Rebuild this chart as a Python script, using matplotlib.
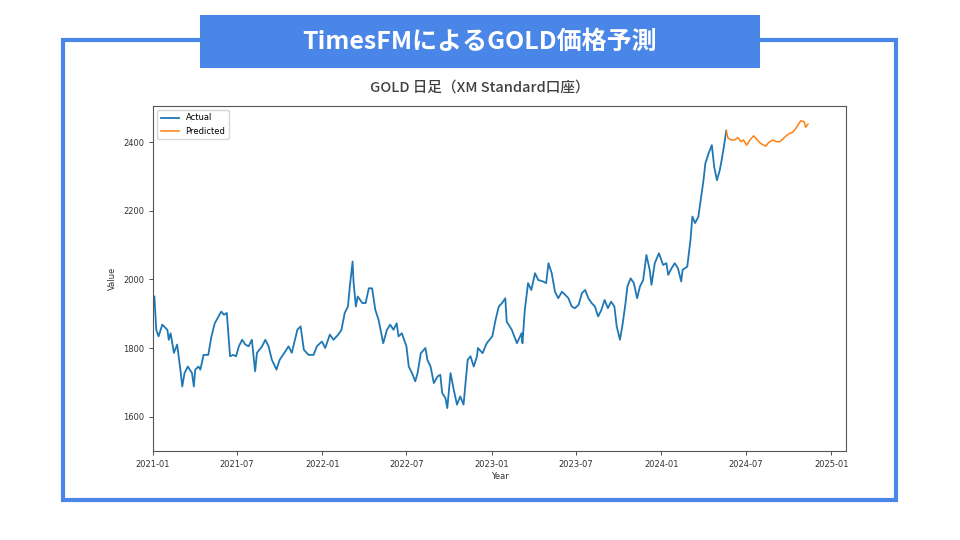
import matplotlib
matplotlib.use("Agg")
import matplotlib.pyplot as plt
import matplotlib.dates as mdates
import pandas as pd
from matplotlib.patches import Rectangle

plt.rcParams['font.family'] = ['Noto Sans CJK JP', 'DejaVu Sans']

# --- data ---
actual_dates = [
    "2021-01-04", "2021-01-08", "2021-01-13", "2021-01-21", "2021-02-01", "2021-02-04",
    "2021-02-08", "2021-02-15", "2021-02-22", "2021-03-01", "2021-03-05", "2021-03-10",
    "2021-03-17", "2021-03-26", "2021-03-30", "2021-04-02", "2021-04-09", "2021-04-13",
    "2021-04-20", "2021-04-30", "2021-05-07", "2021-05-14", "2021-05-28", "2021-06-03",
    "2021-06-09", "2021-06-16", "2021-06-23", "2021-06-29", "2021-07-05", "2021-07-12",
    "2021-07-19", "2021-07-26", "2021-08-02", "2021-08-09", "2021-08-13", "2021-08-24",
    "2021-08-31", "2021-09-07", "2021-09-14", "2021-09-24", "2021-10-01", "2021-10-13",
    "2021-10-20", "2021-10-27", "2021-11-08", "2021-11-15", "2021-11-22", "2021-12-02",
    "2021-12-13", "2021-12-20", "2021-12-31", "2022-01-07", "2022-01-17", "2022-01-25",
    "2022-02-04", "2022-02-11", "2022-02-18", "2022-02-25", "2022-03-01", "2022-03-07",
    "2022-03-09", "2022-03-14", "2022-03-18", "2022-03-28", "2022-04-04", "2022-04-11",
    "2022-04-18", "2022-04-25", "2022-05-02", "2022-05-12", "2022-05-20", "2022-05-27",
    "2022-06-03", "2022-06-10", "2022-06-14", "2022-06-21", "2022-07-01", "2022-07-06",
    "2022-07-13", "2022-07-20", "2022-07-25", "2022-08-01", "2022-08-11", "2022-08-15",
    "2022-08-22", "2022-08-29", "2022-09-06", "2022-09-12", "2022-09-16", "2022-09-23",
    "2022-09-27", "2022-10-04", "2022-10-11", "2022-10-18", "2022-10-25", "2022-11-01",
    "2022-11-04", "2022-11-10", "2022-11-16", "2022-11-23", "2022-11-30", "2022-12-02",
    "2022-12-12", "2022-12-21", "2023-01-02", "2023-01-09", "2023-01-16", "2023-01-23",
    "2023-01-30", "2023-02-02", "2023-02-13", "2023-02-24", "2023-03-06", "2023-03-08",
    "2023-03-13", "2023-03-20", "2023-03-27", "2023-04-04", "2023-04-11", "2023-04-21",
    "2023-04-28", "2023-05-03", "2023-05-10", "2023-05-17", "2023-05-24", "2023-06-01",
    "2023-06-08", "2023-06-15", "2023-06-22", "2023-06-29", "2023-07-07", "2023-07-14",
    "2023-07-21", "2023-07-28", "2023-08-04", "2023-08-11", "2023-08-18", "2023-08-25",
    "2023-09-01", "2023-09-08", "2023-09-15", "2023-09-22", "2023-09-27", "2023-10-04",
    "2023-10-10", "2023-10-16", "2023-10-20", "2023-10-27", "2023-11-03", "2023-11-10",
    "2023-11-16", "2023-11-23", "2023-11-30", "2023-12-07", "2023-12-11", "2023-12-18",
    "2023-12-27", "2024-01-05", "2024-01-12", "2024-01-16", "2024-01-23", "2024-01-30",
    "2024-02-06", "2024-02-13", "2024-02-16", "2024-02-26", "2024-03-04", "2024-03-08",
    "2024-03-14", "2024-03-21", "2024-03-27", "2024-04-01", "2024-04-05", "2024-04-12",
    "2024-04-19", "2024-04-24", "2024-04-30", "2024-05-06", "2024-05-10", "2024-05-15",
    "2024-05-20",
]
actual_values = [
    1950, 1853, 1834, 1868, 1853, 1824,
    1843, 1786, 1810, 1737, 1688, 1727,
    1746, 1727, 1688, 1737, 1746, 1737,
    1780, 1780, 1834, 1872, 1906, 1897,
    1902, 1776, 1780, 1776, 1805, 1824,
    1810, 1805, 1824, 1732, 1786, 1805,
    1824, 1805, 1766, 1737, 1766, 1790,
    1805, 1786, 1853, 1863, 1795, 1780,
    1780, 1805, 1819, 1800, 1839, 1824,
    1839, 1853, 1902, 1921, 1979, 2052,
    1994, 1921, 1950, 1931, 1931, 1974,
    1974, 1911, 1882, 1814, 1853, 1868,
    1853, 1872, 1834, 1843, 1805, 1746,
    1727, 1703, 1727, 1785, 1800, 1766,
    1746, 1698, 1717, 1722, 1669, 1654,
    1625, 1727, 1678, 1635, 1659, 1635,
    1678, 1766, 1776, 1746, 1776, 1800,
    1785, 1814, 1834, 1882, 1921, 1931,
    1945, 1877, 1853, 1814, 1843, 1814,
    1911, 1989, 1969, 2018, 1998, 1994,
    1989, 2047, 2018, 1964, 1945, 1964,
    1955, 1945, 1921, 1916, 1926, 1960,
    1969, 1945, 1931, 1921, 1892, 1911,
    1940, 1916, 1935, 1921, 1863, 1824,
    1872, 1931, 1979, 2003, 1989, 1945,
    1979, 1998, 2071, 2028, 1984, 2047,
    2076, 2042, 2047, 2013, 2032, 2047,
    2032, 1994, 2028, 2037, 2115, 2183,
    2164, 2183, 2241, 2289, 2338, 2367,
    2391, 2328, 2289, 2318, 2347, 2387,
    2433,
]

pred_dates = [
    "2024-05-20", "2024-05-24", "2024-05-31", "2024-06-07", "2024-06-14", "2024-06-21",
    "2024-06-26", "2024-07-03", "2024-07-10", "2024-07-18", "2024-07-26", "2024-08-02",
    "2024-08-13", "2024-08-19", "2024-08-28", "2024-09-05", "2024-09-12", "2024-09-19",
    "2024-09-26", "2024-10-03", "2024-10-10", "2024-10-17", "2024-10-24", "2024-10-28",
    "2024-11-04", "2024-11-07", "2024-11-12",
]
pred_values = [
    2433, 2411, 2406, 2406, 2413, 2401,
    2406, 2391, 2406, 2418, 2406, 2396,
    2388, 2398, 2406, 2401, 2401, 2409,
    2418, 2425, 2428, 2440, 2455, 2462,
    2459, 2443, 2452,
]

x_ticks = ["2021-01", "2021-07", "2022-01", "2022-07", "2023-01",
           "2023-07", "2024-01", "2024-07", "2025-01"]
y_ticks = [1600, 1800, 2000, 2200, 2400]

BLUE = "#4A86E8"
TXT = "#333333"

fig = plt.figure(figsize=(9.6, 5.4), dpi=100)

# outer frame
fig.patches.append(Rectangle((63 / 960, 1 - 500 / 540), 833 / 960, 460 / 540,
                             transform=fig.transFigure, fill=False,
                             edgecolor=BLUE, linewidth=3))
# title banner
fig.patches.append(Rectangle((200 / 960, 1 - 68 / 540), 560 / 960, 53 / 540,
                             transform=fig.transFigure, facecolor=BLUE,
                             edgecolor="none"))
fig.text(0.5, 1 - 42 / 540, "TimesFMによるGOLD価格予測", ha="center", va="center",
         color="white", fontsize=18, fontweight="bold")
fig.text(0.5, 1 - 88 / 540, "GOLD 日足（XM Standard口座）", ha="center", va="center",
         color="#404040", fontsize=10.5, fontweight="medium")

# the embedded chart uses matplotlib's default font
ax = fig.add_axes([153 / 960, 1 - 451 / 540, 693 / 960, 345 / 540])

ax.plot(pd.to_datetime(actual_dates), actual_values, color="#1f77b4", lw=1.3, label="Actual")
ax.plot(pd.to_datetime(pred_dates), pred_values, color="#ff7f0e", lw=1.1, label="Predicted")

ax.set_xlim(pd.Timestamp("2021-01-01"), pd.Timestamp("2025-02-02"))
ax.set_ylim(1500, 2505)
ax.set_xticks(pd.to_datetime(x_ticks))
ax.xaxis.set_major_formatter(mdates.DateFormatter("%Y-%m"))
ax.set_yticks(y_ticks)
ax.tick_params(labelsize=6, colors=TXT, length=3, width=0.6)
for lab in ax.get_xticklabels() + ax.get_yticklabels():
    lab.set_family("DejaVu Sans")
for s in ax.spines.values():
    s.set_color("#555555")
    s.set_linewidth(0.8)

ax.set_xlabel("Year", fontsize=6, color=TXT, labelpad=2, family="DejaVu Sans")
ax.set_ylabel("Value", fontsize=6, color=TXT, labelpad=4, family="DejaVu Sans")
ax.legend(loc="upper left", prop={"family": "DejaVu Sans", "size": 6},
          handlelength=2.2, borderpad=0.4)

plt.savefig("out.png", dpi=100)
plt.close()
